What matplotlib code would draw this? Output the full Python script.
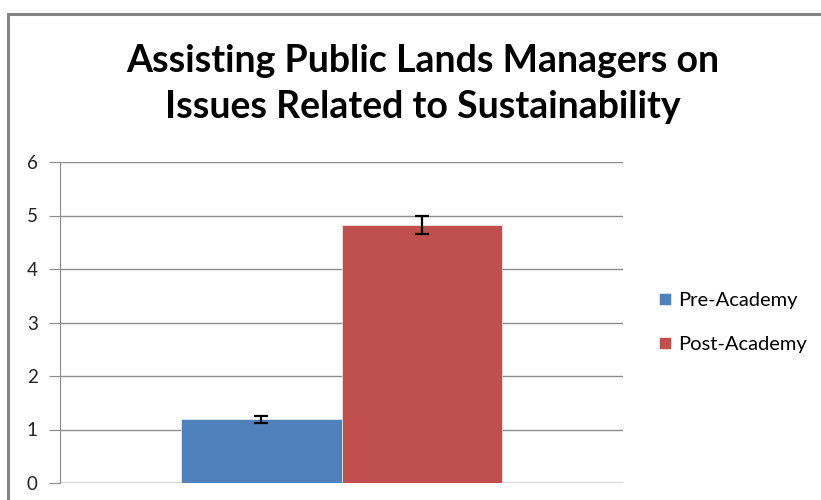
import matplotlib.pyplot as plt
from matplotlib.patches import Rectangle

series = ['Pre-Academy', 'Post-Academy']
means = [1.19, 4.83]
errors = [0.07, 0.17]
colors = ['#4f81bd', '#c0504d']
yticks = [0, 1, 2, 3, 4, 5, 6]
title = 'Assisting Public Lands Managers on\nIssues Related to Sustainability'

plt.rcParams['font.family'] = ['Lato', 'DejaVu Sans']

W, H = 821, 500
fig = plt.figure(figsize=(W / 100, H / 100), dpi=100)

# chart frame (bottom is cut off in the reference)
fig.patches.append(Rectangle((8 / W, -0.1), 1.1, (H - 14) / H + 0.1,
                             transform=fig.transFigure, fill=False,
                             edgecolor='#868686', linewidth=2.2))

ax = fig.add_axes([60 / W, 1 - 483 / H, (623 - 60) / W, (483 - 162) / H])

positions = [-0.5, 0.5]
for pos, m, e, c, name in zip(positions, means, errors, colors, series):
    ax.bar(pos, m, width=1.0, color=c, edgecolor='white', linewidth=0.4,
           label=name, zorder=2)
    ax.errorbar(pos, m, yerr=e, fmt='none', ecolor='black', elinewidth=1.6,
                capsize=5, capthick=1.6, zorder=3)

ax.set_xlim(-1.75, 1.75)
ax.set_ylim(0, 6)
ax.set_yticks(yticks)
ax.set_xticks([])
ax.grid(axis='y', color='#8c8c8c', linewidth=1.0, zorder=0)
for s in ['top', 'right', 'bottom']:
    ax.spines[s].set_visible(False)
ax.spines['left'].set_color('#8c8c8c')
ax.axhline(0, color='#8c8c8c', linewidth=1.0, zorder=1)
ax.tick_params(axis='y', length=8, color='#8c8c8c', labelsize=13.5, pad=8,
               labelcolor='#222222')

fig.text(423 / W, 1 - 84 / H, title, ha='center', va='center', fontsize=27,
         fontweight='bold', color='black', linespacing=1.45)

leg = fig.legend(loc='upper left', bbox_to_anchor=(659 / W, 1 - 292 / H),
                 frameon=False, fontsize=14.5, handlelength=0.6,
                 handleheight=0.6, handletextpad=0.35, labelspacing=1.35,
                 borderaxespad=0, borderpad=0)

fig.savefig('out.png', dpi=100)
